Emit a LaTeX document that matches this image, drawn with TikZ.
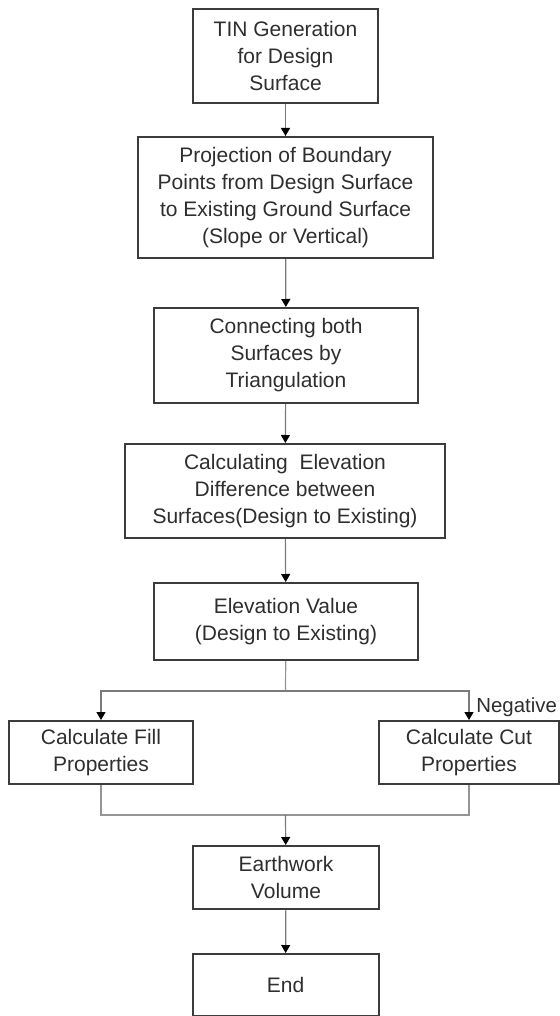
\documentclass[tikz,border=0pt]{standalone}
\usepackage{fontspec}
\setmainfont{Liberation Sans}
\usetikzlibrary{positioning}
\usetikzlibrary{calc}
\usetikzlibrary{arrows.meta}
\definecolor{boxline}{HTML}{3C3C3C}
\definecolor{connline}{HTML}{7A7A7A}
\definecolor{textgray}{HTML}{2E2E2E}
\tikzset{
	x=0.5pt, y=-0.5pt,
	every node/.style={align=center,font=\fontsize{10.5}{13.5}\selectfont,text=textgray},
	state/.style ={rectangle, draw=boxline, line width=1pt, inner sep=0pt, minimum height=47pt},
	flow/.style = {draw=connline, line width=0.6pt, -{Triangle[length=4pt,width=4.5pt,fill=black,color=black]}},
	line/.style = {draw=connline!80, line width=0.6pt}
}

\begin{document}
\begin{tikzpicture}
				% Page frame
				\useasboundingbox (0,0) rectangle (560,1016);
				
				\node[state, minimum width=92.5pt] (1) at (285.5, 56) {TIN Generation\\for Design\\Surface};
				\node[state, minimum width=147.5pt, minimum height=60.5pt] (2) at (285.5, 197.5) {Projection of Boundary\\Points from Design Surface\\to Existing Ground Surface\\(Slope or Vertical)};
				\node[state, minimum width=132pt, minimum height=47.5pt] (3) at (286, 355.5) {Connecting both\\Surfaces by\\Triangulation};
				\node[state, minimum width=160pt] (4) at (285, 491) {Calculating~ Elevation\\Difference between\\Surfaces(Design to Existing)};
				\node[state, minimum width=132pt, minimum height=38.5pt] (5) at (286, 621.5) {Elevation Value\\(Design to Existing)};
				\node[state, minimum width=92pt, minimum height=31.5pt] (6) at (101, 752.5) {Calculate Fill\\Properties};
				\node[state, minimum width=90pt, minimum height=31.5pt] (7) at (469, 752.5) {Calculate Cut\\Properties};
				\node[state, minimum width=93pt, minimum height=31.5pt] (8) at (286, 877.5) {Earthwork\\Volume};
				\node[state, minimum width=93pt, minimum height=31pt] (9) at (285.5, 985) {End};
				
				\coordinate (split) at (285.5, 691);
				\coordinate (merge) at (285.5, 815);
				
				\path[flow] (1) -- (2);
				\path[flow] (2) -- (3);
				\path[flow] (3) -- (4);
				\path[flow] (4) -- (5);
				
				\path[line] (5) -- (split);
				\path[flow] (split) -| (6);
				\path[flow] (split) -| (7);
				\node[anchor=west, inner sep=0pt, font=\fontsize{10.2}{12}\selectfont] (neg) at (476, 707) {Negative};
				
				\path[line] (6) |- (merge);
				\path[line] (7) |- (merge);
				\path[flow] (merge) -- (8);
				\path[flow] (8) -- (9);
				
			\end{tikzpicture}
\end{document}
